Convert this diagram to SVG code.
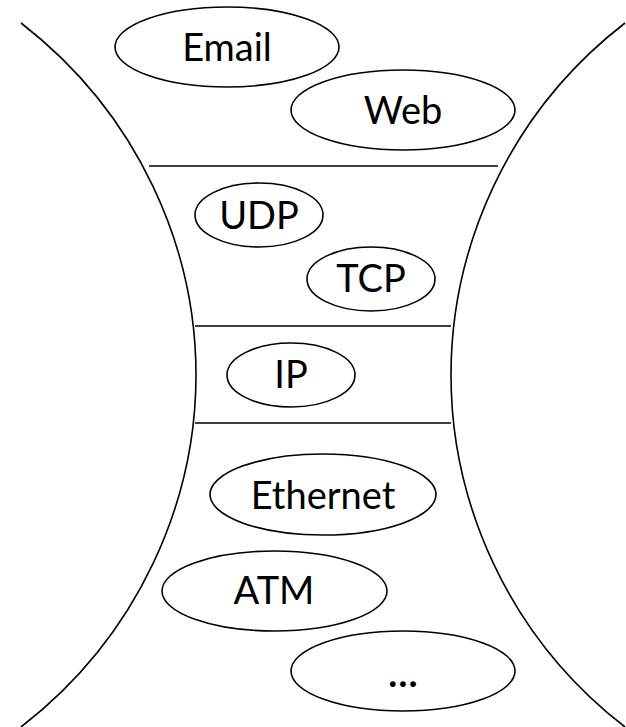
<svg xmlns="http://www.w3.org/2000/svg" width="626" height="727" viewBox="0 0 626 727">
<style>
.bg{fill:#fff}
.ln{fill:none;stroke:#000;stroke-width:1.6}
.el{fill:#fff;stroke:#000;stroke-width:1.6}
.t{font-family:Lato,"Liberation Sans",sans-serif;font-size:38px;fill:#000;text-anchor:middle}
</style>
<rect class="bg" x="0" y="0" width="626" height="727"/>
<g id="hourglass">
<path class="ln" d="M21,23 C140,115 196,250 196,375 C196,500 140,635 21,727"/>
<path class="ln" d="M625,23 C506,115 451,250 451,375 C451,500 506,635 625,727"/>
<line class="ln" x1="149" y1="166" x2="498" y2="166"/>
<line class="ln" x1="195" y1="326" x2="451" y2="326"/>
<line class="ln" x1="195" y1="423" x2="451" y2="423"/>
</g>
<g id="connectors"></g>
<g id="email"><ellipse class="el" cx="227" cy="47" rx="112" ry="40"/><text class="t" x="227" y="61">Email</text></g>
<g id="web"><ellipse class="el" cx="403" cy="110" rx="112" ry="40"/><text class="t" x="403" y="124">Web</text></g>
<g id="udp"><ellipse class="el" cx="259" cy="215" rx="64" ry="32"/><text class="t" x="259" y="229">UDP</text></g>
<g id="tcp"><ellipse class="el" cx="371" cy="279" rx="64" ry="32"/><text class="t" x="371" y="292">TCP</text></g>
<g id="ip"><ellipse class="el" cx="291" cy="375" rx="64" ry="32"/><text class="t" x="291" y="388">IP</text></g>
<g id="ethernet"><ellipse class="el" cx="323" cy="494.5" rx="113" ry="40.5"/><text class="t" x="323" y="509">Ethernet</text></g>
<g id="atm"><ellipse class="el" cx="274.5" cy="591" rx="112.5" ry="40"/><text class="t" x="274" y="604">ATM</text></g>
<g id="more"><ellipse class="el" cx="403" cy="671" rx="112" ry="40"/><text class="t" x="403" y="687" font-weight="bold">…</text></g>
</svg>
